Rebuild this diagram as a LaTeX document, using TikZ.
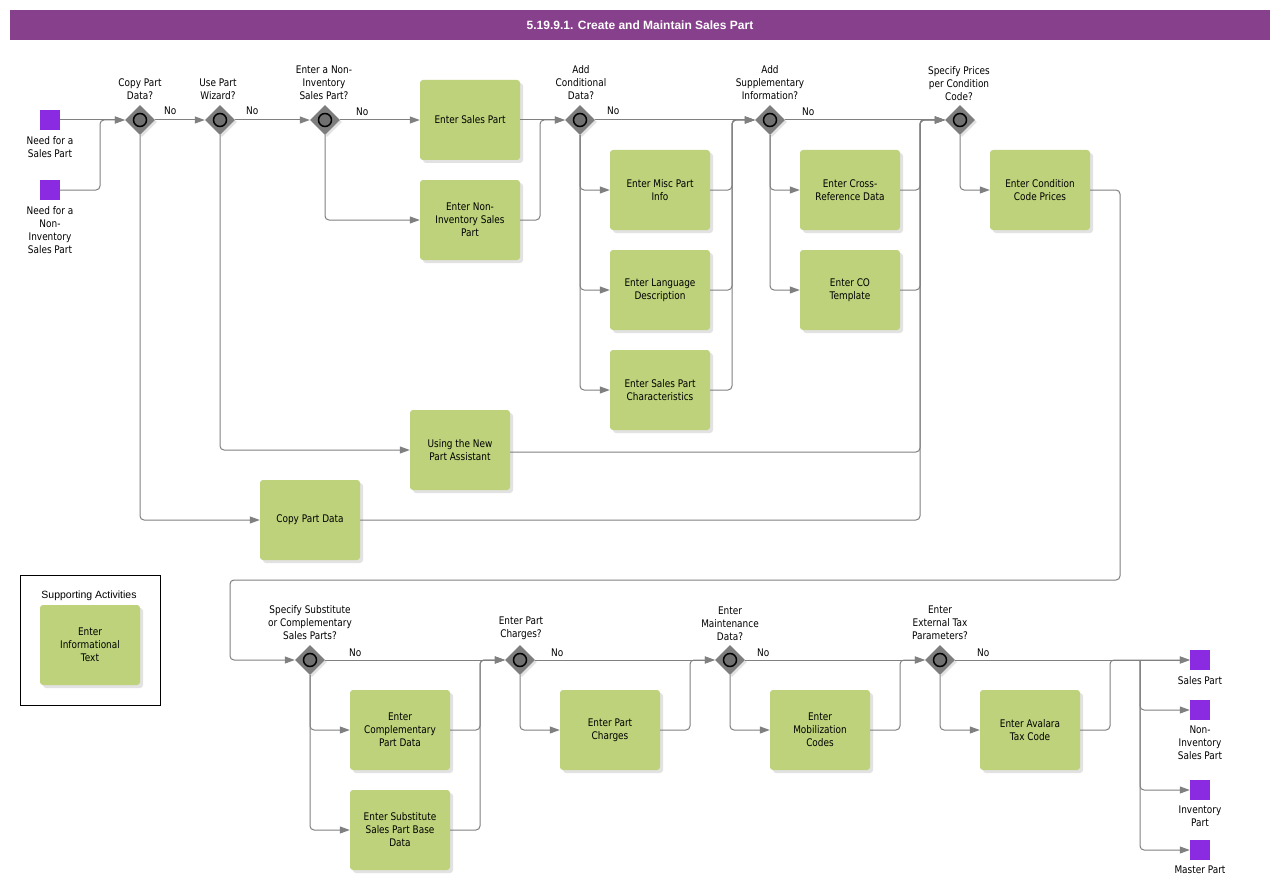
\documentclass[tikz,border=0pt]{standalone}
\usepackage{fontspec}
\setmainfont{DejaVu Sans}[FakeStretch=0.85]
\newfontfamily\arialf{Liberation Sans}
\usetikzlibrary{shapes.geometric,arrows.meta,shadows,calc}
\definecolor{titlepurple}{RGB}{135,64,140}
\definecolor{taskgreen}{RGB}{189,210,123}
\definecolor{eventpurple}{RGB}{138,43,226}
\definecolor{linegray}{RGB}{128,128,128}
\definecolor{gategray}{RGB}{125,125,125}
\definecolor{ringgray}{RGB}{112,112,112}
\newcommand{\bpmntext}{\fontsize{10.5}{13}\selectfont}
\tikzset{
  task/.style={rectangle, rounded corners=3pt, fill=taskgreen, minimum width=100pt,
    minimum height=80pt, align=center, font=\bpmntext, inner sep=0pt,
    drop shadow={shadow xshift=3pt, shadow yshift=-3pt, fill=black!22}},
  gate/.style={diamond, aspect=1, minimum width=30pt, minimum height=30pt, inner sep=0pt,
    fill=gategray, drop shadow={shadow xshift=2pt, shadow yshift=-2pt, fill=black!22}},
  ring/.style={circle, draw=black, line width=1.5pt, fill=ringgray, minimum size=13pt, inner sep=0pt},
  event/.style={rectangle, fill=eventpurple, minimum width=20pt, minimum height=20pt, inner sep=0pt},
  txt/.style={align=center, font=\bpmntext, inner sep=0pt},
  nolab/.style={font=\bpmntext, inner sep=0pt, anchor=base west},
  flow/.style={draw=linegray, line width=1pt, rounded corners=4pt,
    -{Triangle[length=10pt,width=7pt]}}
}
\begin{document}
\begin{tikzpicture}[x=1pt,y=-1pt]
\useasboundingbox[fill=white] (0,0) rectangle (1280,888);
% title
\node[fill=titlepurple, minimum width=1260pt, minimum height=30pt, inner sep=0pt,
  text=white, font=\arialf\bfseries\fontsize{12}{14}\selectfont] (title) at (640,25)
  {5.19.9.1. Create and Maintain Sales Part};

% start events
\node[event] (s1) at (50,120) {};
\node[txt, anchor=north] (s1l) at (50,136) {Need for a\\Sales Part};
\node[event] (s2) at (50,190) {};
\node[txt, anchor=north] (s2l) at (50,206) {Need for a\\Non-\\Inventory\\Sales Part};

% gateways
\foreach \n/\x/\y in {d1/140/120, d2/220/120, d3/325/120, d4/580/120, d5/770/120, d6/960/120,
                     d7/310/660, d8/520/660, d9/730/660, d10/940/660} {
  \node[gate] (\n) at (\x,\y) {};
  \node[ring] (\n r) at (\x,\y) {};
}
\node[txt, anchor=south] (d1l) at (140,100) {Copy Part\\Data?};
\node[txt, anchor=south] (d2l) at (218,100) {Use Part\\Wizard?};
\node[txt, anchor=south] (d3l) at (324,100) {Enter a Non-\\Inventory\\Sales Part?};
\node[txt, anchor=south] (d4l) at (581,100) {Add\\Conditional\\Data?};
\node[txt, anchor=south] (d5l) at (770,100) {Add\\Supplementary\\Information?};
\node[txt, anchor=south] (d6l) at (959,101) {Specify Prices\\per Condition\\Code?};
\node[txt, anchor=south] (d7l) at (310,640) {Specify Substitute\\or Complementary\\Sales Parts?};
\node[txt, anchor=south] (d8l) at (521,640) {Enter Part\\Charges?};
\node[txt, anchor=south] (d9l) at (730,641) {Enter\\Maintenance\\Data?};
\node[txt, anchor=south] (d10l) at (940,640) {Enter\\External Tax\\Parameters?};

% No labels
\node[nolab] (n1) at (164,115) {No};
\node[nolab] (n2) at (246,115) {No};
\node[nolab] (n3) at (356,116) {No};
\node[nolab] (n4) at (607,115) {No};
\node[nolab] (n5) at (802,116) {No};
\node[nolab] (n7) at (349,656) {No};
\node[nolab] (n8) at (551,656) {No};
\node[nolab] (n9) at (757,656) {No};
\node[nolab] (n10) at (977,656) {No};

% tasks
\node[task] (esp) at (470,120) {Enter Sales Part};
\node[task] (enis) at (470,220) {Enter Non-\\Inventory Sales\\Part};
\node[task] (misc) at (660,190) {Enter Misc Part\\Info};
\node[task] (lang) at (660,290) {Enter Language\\Description};
\node[task] (char) at (660,390) {Enter Sales Part\\Characteristics};
\node[task] (xref) at (850,190) {Enter Cross-\\Reference Data};
\node[task] (cot) at (850,290) {Enter CO\\Template};
\node[task] (cond) at (1040,190) {Enter Condition\\Code Prices};
\node[task] (assist) at (460,450) {Using the New\\Part Assistant};
\node[task] (copy) at (310,520) {Copy Part Data};
\node[task] (comp) at (400,730) {Enter\\Complementary\\Part Data};
\node[task] (subst) at (400,830) {Enter Substitute\\Sales Part Base\\Data};
\node[task] (pch) at (610,730) {Enter Part\\Charges};
\node[task] (mob) at (820,730) {Enter\\Mobilization\\Codes};
\node[task] (ava) at (1030,730) {Enter Avalara\\Tax Code};

% supporting activities
\node[draw=black, line width=1pt, minimum width=140pt, minimum height=130pt, inner sep=0pt] (supp) at (90,640) {};
\node[font=\arialf\fontsize{10.5}{12}\selectfont, inner sep=0pt] (suppl) at (89,596) {Supporting Activities};
\node[task] (info) at (90,645) {Enter\\Informational\\Text};

% end events
\node[event] (e1) at (1200,660) {};
\node[txt, anchor=north] (e1l) at (1200,676) {Sales Part};
\node[event] (e2) at (1200,710) {};
\node[txt, anchor=north] (e2l) at (1200,726) {Non-\\Inventory\\Sales Part};
\node[event] (e3) at (1200,790) {};
\node[txt, anchor=north] (e3l) at (1200,806) {Inventory\\Part};
\node[event] (e4) at (1200,850) {};
\node[txt, anchor=north] (e4l) at (1200,866) {Master Part};

% merge coordinates
\coordinate (m1) at (100,120);
\coordinate (m4) at (540,120);
\coordinate (m5) at (732,120);
\coordinate (m6) at (920,120);
\coordinate (r1) at (1120,580);
\coordinate (r2) at (230,580);
\coordinate (m8) at (480,660);
\coordinate (m9) at (690,660);
\coordinate (m10) at (900,660);
\coordinate (m11) at (1110,660);
\coordinate (split) at (1140,660);

% connectors top
\draw[flow] (s1.east) -- (d1.west);
\draw[flow] (s2.east) -| (m1) -- (d1.west);
\draw[flow] (d1.east) -- (d2.west);
\draw[flow] (d1.south) |- (copy.west);
\draw[flow] (d2.east) -- (d3.west);
\draw[flow] (d2.south) |- (assist.west);
\draw[flow] (d3.east) -- (esp.west);
\draw[flow] (d3.south) |- (enis.west);
\draw[flow] (esp.east) -- (d4.west);
\draw[flow] (enis.east) -| (m4) -- (d4.west);
\draw[flow] (d4.east) -- (d5.west);
\draw[flow] (d4.south) |- (misc.west);
\draw[flow] (d4.south) |- (lang.west);
\draw[flow] (d4.south) |- (char.west);
\draw[flow] (misc.east) -| (m5) -- (d5.west);
\draw[flow] (lang.east) -| (m5) -- (d5.west);
\draw[flow] (char.east) -| (m5) -- (d5.west);
\draw[flow] (d5.east) -- (d6.west);
\draw[flow] (d5.south) |- (xref.west);
\draw[flow] (d5.south) |- (cot.west);
\draw[flow] (xref.east) -| (m6) -- (d6.west);
\draw[flow] (cot.east) -| (m6) -- (d6.west);
\draw[flow] ([yshift=-2pt]assist.east) -| (m6) -- (d6.west);
\draw[flow] (copy.east) -| (m6) -- (d6.west);
\draw[flow] (d6.south) |- (cond.west);
\draw[flow] (cond.east) -| (r1) -- (r2) |- (d7.west);

% connectors bottom
\draw[flow] (d7.east) -- (d8.west);
\draw[flow] (d7.south) |- (comp.west);
\draw[flow] (d7.south) |- (subst.west);
\draw[flow] (comp.east) -| (m8) -- (d8.west);
\draw[flow] (subst.east) -| (m8) -- (d8.west);
\draw[flow] (d8.east) -- (d9.west);
\draw[flow] (d8.south) |- (pch.west);
\draw[flow] (pch.east) -| (m9) -- (d9.west);
\draw[flow] (d9.east) -- (d10.west);
\draw[flow] (d9.south) |- (mob.west);
\draw[flow] (mob.east) -| (m10) -- (d10.west);
\draw[flow] (d10.east) -- (e1.west);
\draw[flow] (d10.south) |- (ava.west);
\draw[flow] (ava.east) -| (m11) -- (e1.west);
\draw[flow] (split) |- (e2.west);
\draw[flow] (split) |- (e3.west);
\draw[flow] (split) |- (e4.west);
\end{tikzpicture}
\end{document}
